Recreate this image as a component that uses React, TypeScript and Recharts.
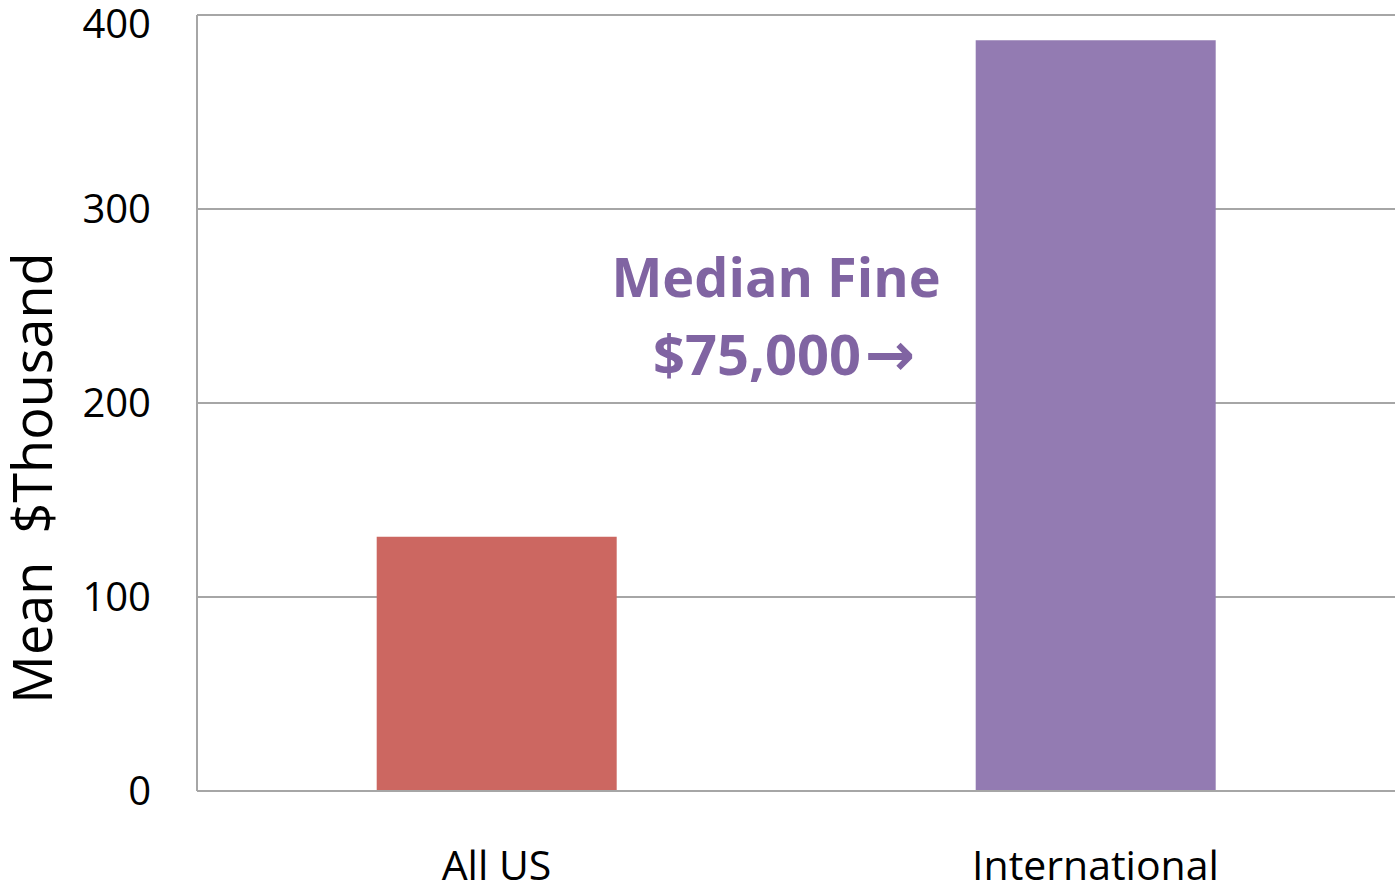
import React from "react";
import { BarChart, Bar, XAxis, YAxis, CartesianGrid, Cell, Customized } from "recharts";

const categories = ["All US", "International"];
const meanFines = [131, 387];
const barColors = ["#CC6761", "#937BB2"];
const yTicks = [0, 100, 200, 300, 400];
const yTitle = "Mean\u00A0\u00A0$Thousand";
const noteLines = ["Median Fine", "$75,000"];

const data = categories.map((name, i) => ({ name, value: meanFines[i] }));

const FONT = "'Open Sans', 'Noto Sans', sans-serif";
const GRID = "#A6A6A6";
const NOTE = "#8064A2";

// purple callout next to the International bar
const MedianNote = () => (
  <g fontFamily={FONT} fontWeight={700} fontSize={54} fill={NOTE}>
    <text x={776} y={297} textAnchor="middle">
      {noteLines[0]}
    </text>
    <text x={653} y={375} textAnchor="start" fontSize={56}>
      {noteLines[1]}
      <tspan fontFamily="'DejaVu Sans'" fontSize={60} dx={4}>
        {"\u2192"}
      </tspan>
    </text>
  </g>
);

// rotated y title, drawn by hand so it sits where the reference has it
const YTitle = () => (
  <text
    x={0}
    y={0}
    transform="translate(52, 478) rotate(-90)"
    textAnchor="middle"
    fontFamily={FONT}
    fontSize={54}
    fill="#000"
  >
    {yTitle}
  </text>
);

export default function App() {
  return (
    <div style={{ position: "absolute", left: 0, top: 0, width: 1395, height: 890, background: "#fff" }}>
      <BarChart
        width={1395}
        height={890}
        data={data}
        margin={{ top: 15, right: 0, left: 0, bottom: 0 }}
        barCategoryGap="30%"
      >
        <CartesianGrid vertical={false} stroke={GRID} strokeWidth={2} />
        <XAxis
          dataKey="name"
          height={99}
          tickLine={false}
          axisLine={{ stroke: GRID, strokeWidth: 2 }}
          tickMargin={54}
          tick={{ fontSize: 41, fill: "#000", fontFamily: FONT }}
        />
        <YAxis
          width={197}
          domain={[0, 400]}
          ticks={yTicks}
          tickLine={false}
          axisLine={{ stroke: GRID, strokeWidth: 2 }}
          tickMargin={40}
          tick={{ fontSize: 40, fill: "#000", fontFamily: FONT }}
        />
        <Bar dataKey="value" isAnimationActive={false}>
          {data.map((d, i) => (
            <Cell key={d.name} fill={barColors[i]} />
          ))}
        </Bar>
        <Customized component={MedianNote} />
        <Customized component={YTitle} />
      </BarChart>
    </div>
  );
}
